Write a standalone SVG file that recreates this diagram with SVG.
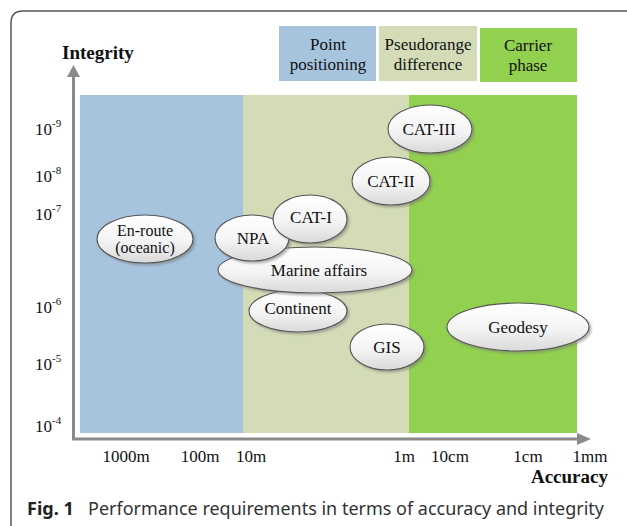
<svg xmlns="http://www.w3.org/2000/svg" width="627" height="526" viewBox="0 0 627 526">
<style>
.serif{font-family:"Liberation Serif","Times New Roman",serif;fill:#111}
.lbl{font-size:17px;text-anchor:middle}
.tick{font-size:17px;text-anchor:middle}
.ytick{font-size:17px}
.sup{font-size:11px}
.node ellipse{fill:url(#eg);stroke:#555;stroke-width:1.1;filter:url(#sh)}
.node text{font-family:"Liberation Serif","Times New Roman",serif;font-size:17px;text-anchor:middle;fill:#111}
.node text.sm{font-size:16px}
.axis{stroke:#8a8a8a;stroke-width:3;fill:none}
</style>
<defs>
<linearGradient id="eg" x1="0" y1="0" x2="0" y2="1">
<stop offset="0" stop-color="#ffffff"/>
<stop offset="0.55" stop-color="#f4f4f4"/>
<stop offset="1" stop-color="#d9d9d9"/>
</linearGradient>
<filter id="sh" x="-20%" y="-30%" width="140%" height="160%">
<feDropShadow dx="2" dy="2" stdDeviation="1" flood-color="#777" flood-opacity="0.55"/>
</filter>
</defs>
<rect width="627" height="526" fill="#ffffff"/>
<!-- frame -->
<path d="M11 526 V23 Q11 11 23 11 H627" fill="none" stroke="#555" stroke-width="1.5"/>
<!-- legend -->
<g id="legend">
<rect x="279" y="26" width="97" height="55" fill="#a7c4df"/>
<rect x="379" y="26" width="98" height="55" fill="#d3dcb7"/>
<rect x="480" y="28" width="97" height="54" fill="#92d050"/>
<text class="serif lbl" x="328" y="50">Point</text>
<text class="serif lbl" x="328" y="70">positioning</text>
<text class="serif lbl" x="428" y="50">Pseudorange</text>
<text class="serif lbl" x="428" y="70">difference</text>
<text class="serif lbl" x="528" y="51">Carrier</text>
<text class="serif lbl" x="528" y="71">phase</text>
</g>
<!-- bands -->
<g id="bands">
<rect x="80" y="95" width="163" height="338" fill="#a7c4df"/>
<rect x="243" y="95" width="166" height="338" fill="#d3dcb7"/>
<rect x="409" y="95" width="168" height="338" fill="#92d050"/>
</g>
<!-- axes -->
<g id="connectors">
<path class="axis" d="M73.5 439 V75"/>
<polygon points="73.5,65 67,77 80,77" fill="#8a8a8a"/>
<path class="axis" d="M72 439 H580"/>
<polygon points="591,439 577,433 577,445" fill="#8a8a8a"/>
</g>
<text class="serif" x="62" y="59" font-size="19" font-weight="bold">Integrity</text>
<text class="serif" x="608" y="483" font-size="19" font-weight="bold" text-anchor="end">Accuracy</text>
<!-- y ticks -->
<g id="yticks" class="serif ytick">
<text x="35" y="135">10<tspan class="sup" dy="-8">-9</tspan></text>
<text x="35" y="182">10<tspan class="sup" dy="-8">-8</tspan></text>
<text x="35" y="220">10<tspan class="sup" dy="-8">-7</tspan></text>
<text x="35" y="313">10<tspan class="sup" dy="-8">-6</tspan></text>
<text x="35" y="370">10<tspan class="sup" dy="-8">-5</tspan></text>
<text x="35" y="432">10<tspan class="sup" dy="-8">-4</tspan></text>
</g>
<!-- x ticks -->
<g id="xticks" class="serif tick">
<text x="126" y="462">1000m</text>
<text x="200" y="462">100m</text>
<text x="251" y="462">10m</text>
<text x="404" y="462">1m</text>
<text x="450" y="462">10cm</text>
<text x="528" y="462">1cm</text>
<text x="590" y="462">1mm</text>
</g>
<!-- nodes -->
<g id="enroute" class="node"><ellipse cx="145" cy="239" rx="48" ry="24"/><text class="sm" x="145" y="236">En-route</text><text class="sm" x="145" y="253">(oceanic)</text></g>
<g id="continent" class="node"><ellipse cx="298" cy="311" rx="49" ry="21"/><text x="298" y="314">Continent</text></g>
<g id="marine" class="node"><ellipse cx="315" cy="270" rx="97" ry="23"/><text x="319" y="276">Marine affairs</text></g>
<g id="npa" class="node"><ellipse cx="252" cy="238" rx="37" ry="23"/><text x="253" y="244">NPA</text></g>
<g id="cat1" class="node"><ellipse cx="310" cy="219" rx="37" ry="24"/><text x="311" y="223">CAT-I</text></g>
<g id="cat2" class="node"><ellipse cx="391" cy="181" rx="39" ry="24"/><text x="391" y="187">CAT-II</text></g>
<g id="cat3" class="node"><ellipse cx="430" cy="129" rx="42" ry="24"/><text x="429" y="135">CAT-III</text></g>
<g id="gis" class="node"><ellipse cx="387" cy="347" rx="37" ry="23"/><text x="387" y="353">GIS</text></g>
<g id="geodesy" class="node"><ellipse cx="518" cy="327" rx="71" ry="24"/><text x="518" y="333">Geodesy</text></g>
<!-- caption -->
<text x="27" y="515" font-family="'Noto Sans','Open Sans',sans-serif" font-size="18" fill="#333"><tspan font-weight="bold" fill="#222">Fig. 1</tspan><tspan x="88" textLength="516" lengthAdjust="spacingAndGlyphs">Performance requirements in terms of accuracy and integrity</tspan></text>
</svg>
